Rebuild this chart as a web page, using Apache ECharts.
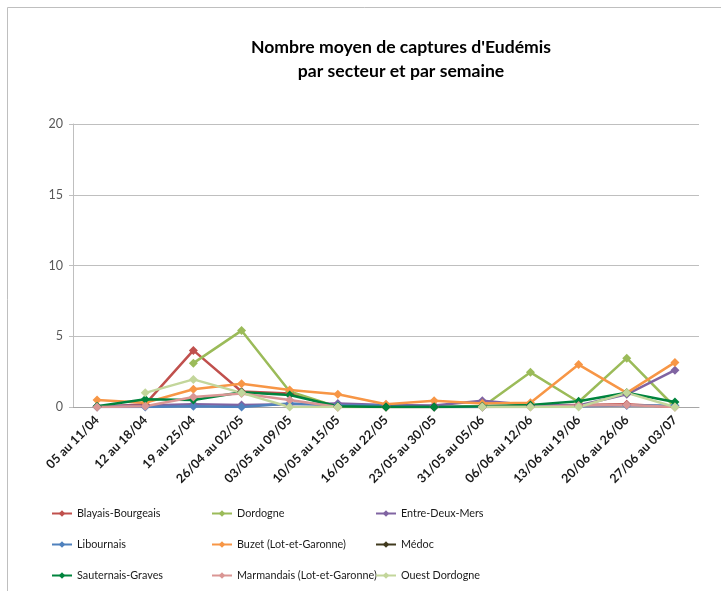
<!DOCTYPE html>
<html><head><meta charset="utf-8">
<script src="https://cdn.jsdelivr.net/npm/echarts@6/dist/echarts.min.js"></script>
<style>html,body{margin:0;padding:0;background:#fff}#c{width:721px;height:591px}</style>
</head><body><div id="c"></div>
<script>
const categories = ["05 au 11/04","12 au 18/04","19 au 25/04","26/04 au 02/05","03/05 au 09/05","10/05 au 15/05","16/05 au 22/05","23/05 au 30/05","31/05 au 05/06","06/06 au 12/06","13/06 au 19/06","20/06 au 26/06","27/06 au 03/07"];
const yTicks = [0, 5, 10, 15, 20];
const blayais    = [0, 0.2, 4.0, 1.1, 0.95, 0, 0, 0, 0, 0.1, 0.15, 0.2, 0];
const dordogne   = [null, null, 3.1, 5.4, 1.1, 0, 0, 0, 0, 2.45, 0.35, 3.45, 0];
const entreDeux  = [0.05, 0.1, 0.2, 0.15, 0.2, 0.25, 0.15, 0.1, 0.45, 0.15, 0.1, 0.9, 2.6];
const libournais = [0, 0, 0.05, 0, 0.25, 0.1, 0.1, 0, 0, 0.05, 0.05, 0.1, 0.1];
const buzet      = [0.5, 0.3, 1.25, 1.65, 1.2, 0.9, 0.2, 0.45, 0.25, 0.3, 3.0, 1.0, 3.15];
const medoc      = [null, null, null, null, null, null, 0, 0, null, null, null, null, null];
const sauternais = [0.05, 0.55, 0.5, 1.05, 0.85, 0.05, 0, 0, 0.05, 0.15, 0.4, 1.0, 0.35];
const marmandais = [0, 0.05, 0.7, 0.95, 0.5, 0, null, null, 0, 0, 0.1, 0.15, 0];
const ouestDord  = [null, 1.0, 1.95, 1.0, 0, 0, null, null, 0, 0, 0, 1.0, 0];

const seriesDefs = [
  ["Blayais-Bourgeais", blayais, "#C0504D"],
  ["Dordogne", dordogne, "#9BBB59"],
  ["Entre-Deux-Mers", entreDeux, "#8064A2"],
  ["Libournais", libournais, "#4F81BD"],
  ["Buzet (Lot-et-Garonne)", buzet, "#F79646"],
  ["Médoc", medoc, "#403A1E"],
  ["Sauternais-Graves", sauternais, "#00843D"],
  ["Marmandais (Lot-et-Garonne)", marmandais, "#DA9694"],
  ["Ouest Dordogne", ouestDord, "#C3D69B"]
];
const FONT = "Lato";
const chart = echarts.init(document.getElementById('c'));
function legendCol(names, left) {
  return {
    data: names, orient: 'vertical', left: left, top: 503,
    itemWidth: 20, itemHeight: 8, itemGap: 20,
    textStyle: {fontFamily: FONT, fontSize: 10.8, color: '#1a1a1a'}
  };
}
chart.setOption({
  animation: false,
  title: {
    text: "Nombre moyen de captures d'Eudémis\npar secteur et par semaine",
    left: 396, top: 30, textAlign: 'center',
    textStyle: {fontFamily: FONT, fontSize: 17.6, fontWeight: 'bold', color: '#000', lineHeight: 24}
  },
  graphic: [
    {type: 'polyline', shape: {points: [[7.5, 591], [7.5, 7.5], [721, 7.5]]}, style: {stroke: '#BFBFBF', lineWidth: 1, fill: null}}
  ],
  legend: [
    legendCol(["Blayais-Bourgeais", "Libournais", "Sauternais-Graves"], 46),
    legendCol(["Dordogne", "Buzet (Lot-et-Garonne)", "Marmandais (Lot-et-Garonne)"], 206),
    legendCol(["Entre-Deux-Mers", "Médoc", "Ouest Dordogne"], 370)
  ],
  grid: {left: 73, right: 22, top: 124, bottom: 184},
  xAxis: {
    type: 'category', data: categories, boundaryGap: true,
    axisLine: {lineStyle: {color: '#A6A6A6'}},
    axisTick: {show: false},
    axisLabel: {rotate: 45, interval: 0, fontFamily: FONT, fontSize: 12.5, fontWeight: 'bold', color: '#1a1a1a', margin: 11}
  },
  yAxis: {
    type: 'value', min: yTicks[0], max: yTicks[yTicks.length - 1], interval: 5,
    axisLine: {show: true, lineStyle: {color: '#BFBFBF'}},
    axisTick: {show: true, length: 4, lineStyle: {color: '#BFBFBF'}},
    splitLine: {lineStyle: {color: '#BFBFBF'}},
    axisLabel: {fontFamily: FONT, fontSize: 12.5, color: '#595959', margin: 10}
  },
  series: seriesDefs.map(([name, data, color]) => ({
    name: name, type: 'line', data: data,
    color: color,
    symbol: 'diamond', symbolSize: 9,
    lineStyle: {width: 2.5, color: color},
    itemStyle: {color: color},
    connectNulls: false
  }))
});
</script></body></html>
